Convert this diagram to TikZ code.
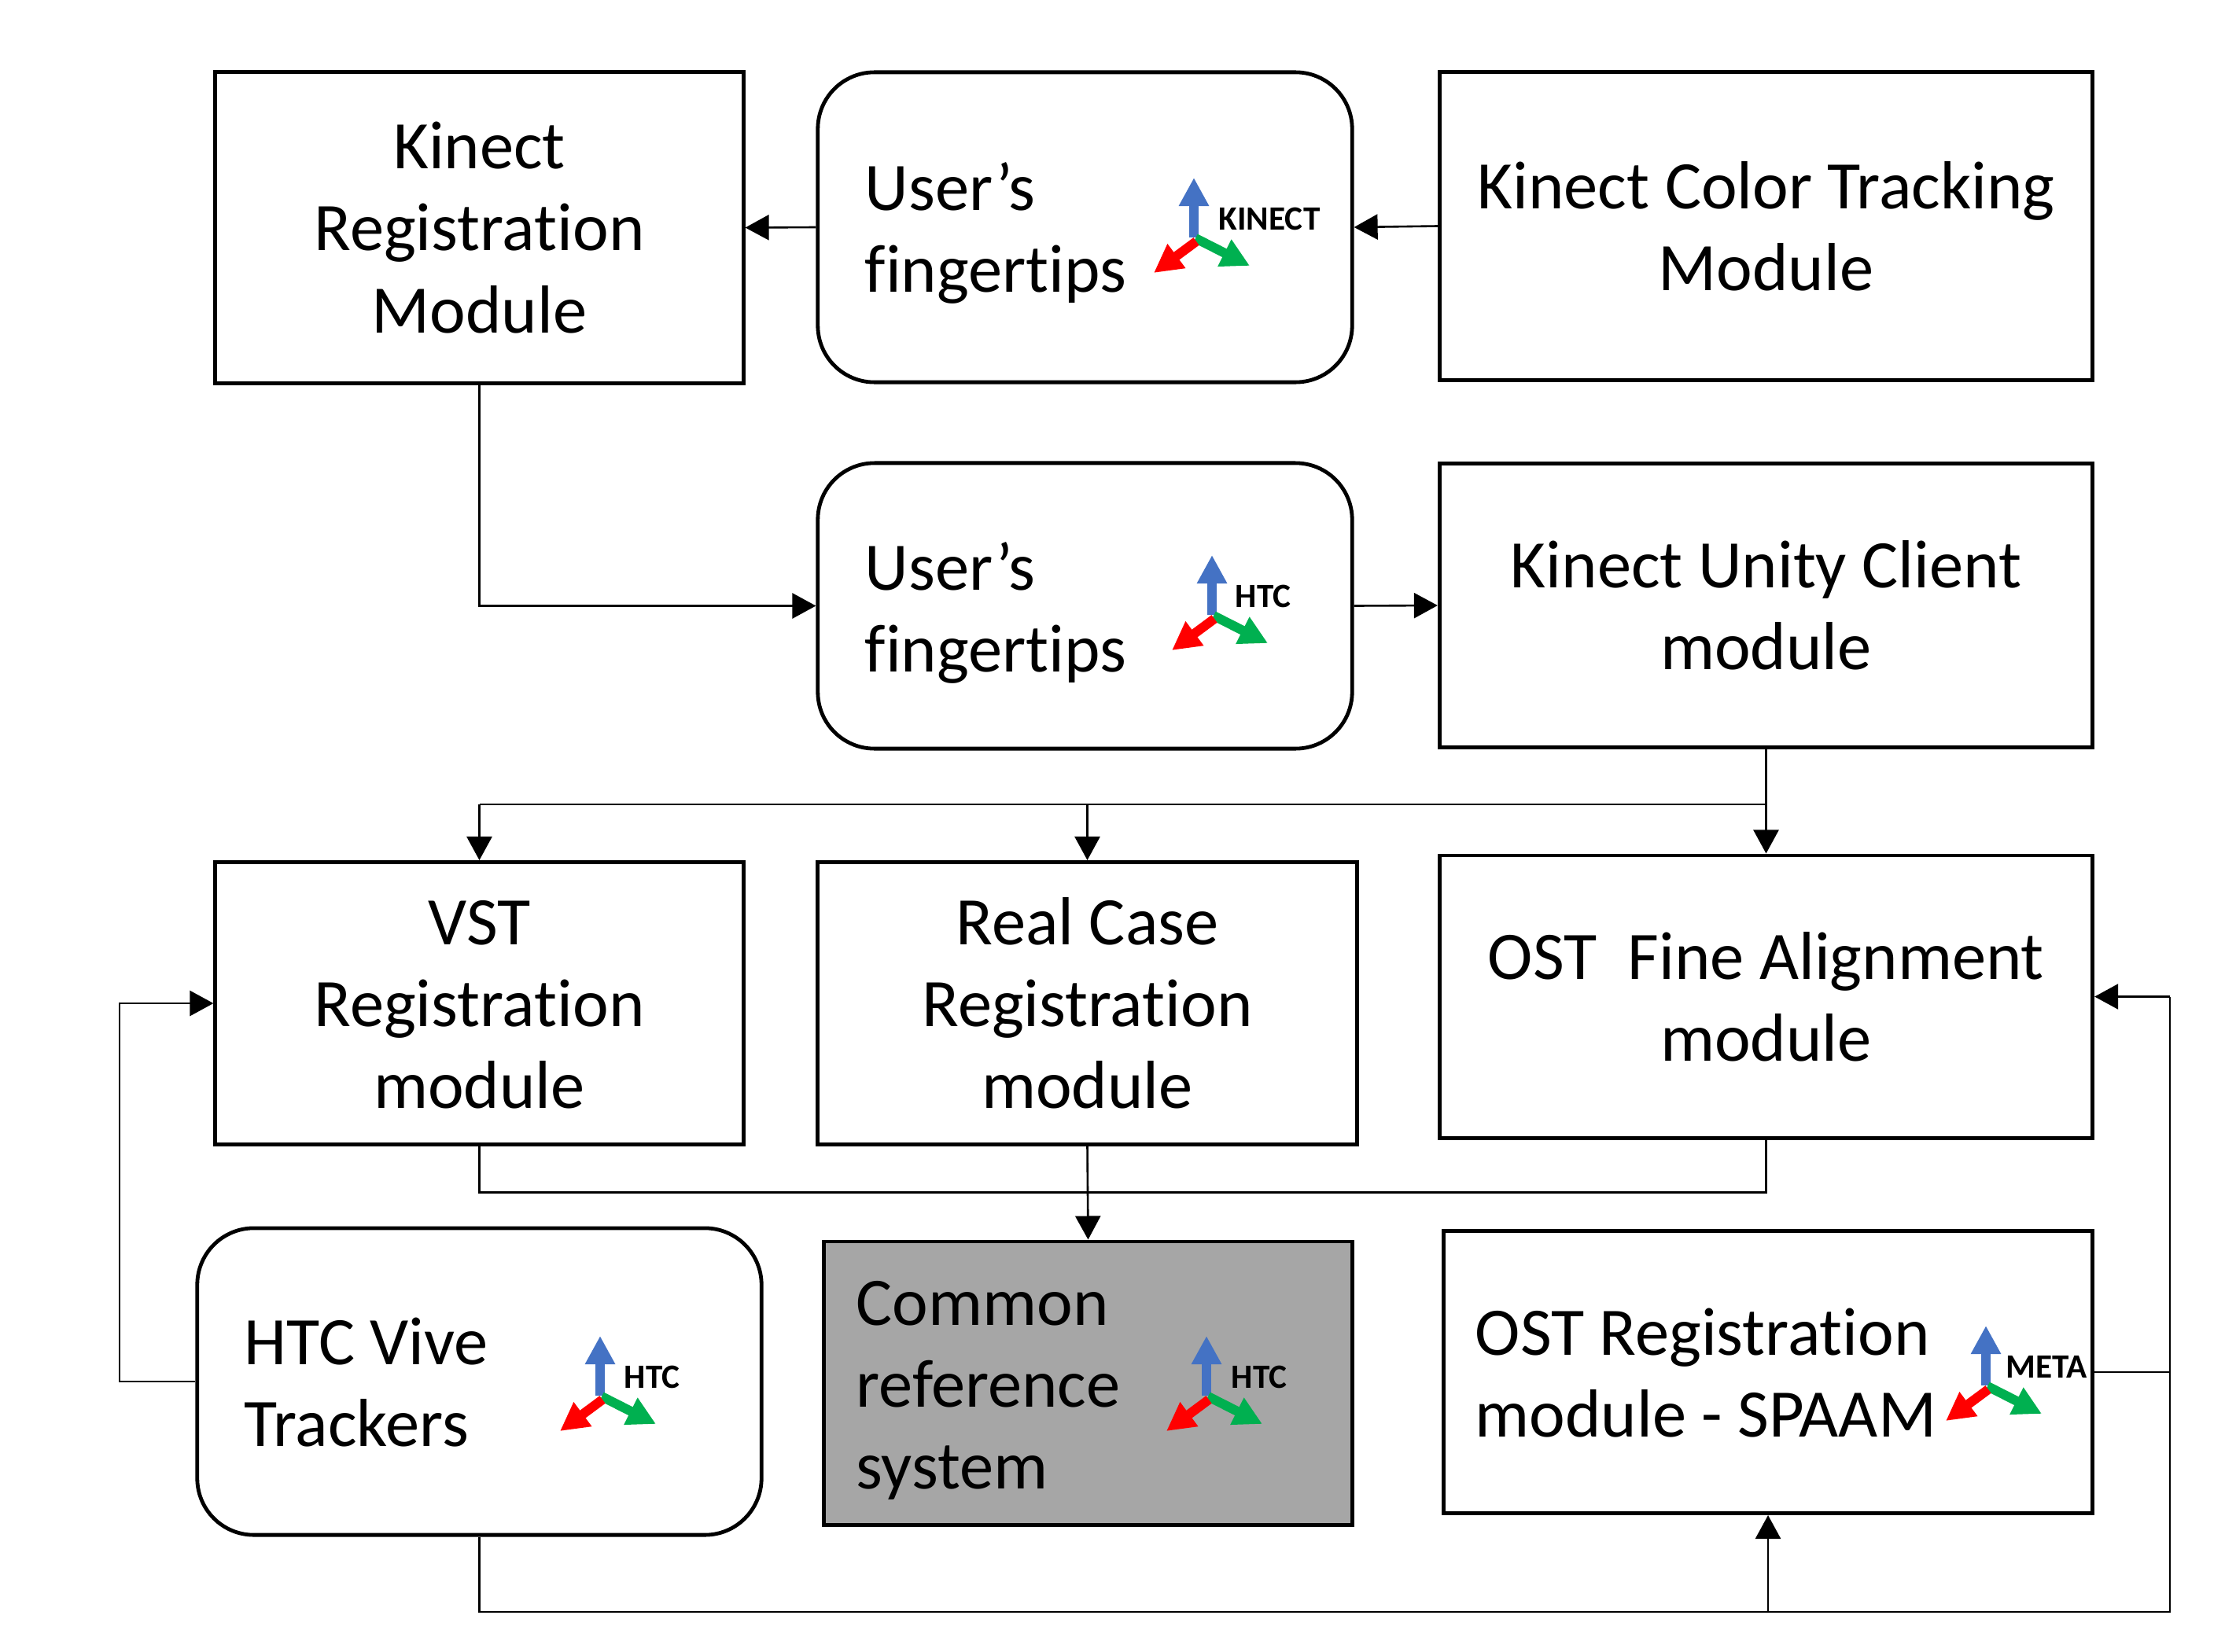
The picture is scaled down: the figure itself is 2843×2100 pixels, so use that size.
\documentclass[tikz,border=0pt]{standalone}
\usepackage{fontspec}
\setmainfont[Ligatures=NoCommon]{Carlito}
\usetikzlibrary{arrows.meta}
\definecolor{axisblue}{HTML}{4472C4}
\definecolor{axisgreen}{HTML}{00B050}
\definecolor{axisred}{HTML}{FF0000}
\definecolor{refgray}{HTML}{A6A6A6}
\tikzset{
  block/.style={draw,line width=0.048cm,align=center,inner sep=0pt,
    font=\fontsize{24.6}{29.6}\selectfont},
  roundblock/.style={block,rounded corners=0.72cm},
  lefttext/.style={anchor=west,align=left,inner sep=0pt,
    font=\fontsize{24.6}{29.6}\selectfont},
  axislabel/.style={anchor=west,inner sep=0pt,font=\fontsize{12.3}{14}\selectfont\bfseries},
  axis/.style={line width=0.12cm,-{Triangle[length=0.36cm,width=0.36cm]}},
  link/.style={line width=0.026cm},
  flow/.style={link,-{Triangle[length=0.3cm,width=0.32cm]}}
}
\newcommand{\refaxes}[4]{%
  \draw[axis,axisblue] (#1,#2) -- ++(0,-76);
  \draw[axis,axisgreen] (#1+2,#2+1) -- ++(69,35);
  \draw[axis,axisred] (#1+3,#2+5) -- ++(-54,40);
  \node[axislabel] at (#1+#3,#2-24) {#4};
}
\begin{document}
\begin{tikzpicture}[x=0.01cm,y=-0.01cm]
  \useasboundingbox (0,0) rectangle (2843,2100);
  % top row
  \node[block,minimum width=6.71cm,minimum height=3.95cm] (kinectreg) at (609.5,289.5)
    {Kinect\\Registration\\Module};
  \node[roundblock,minimum width=6.79cm,minimum height=3.94cm] (tipskinect) at (1379.5,289) {};
  \node[block,minimum width=8.30cm,minimum height=3.91cm] (colortrack) at (2245.5,287.5)
    {Kinect Color Tracking\\Module};
  \node[lefttext] (tipskinecttext) at (1099,296) {User’s\\fingertips};
  \refaxes{1518}{302}{31}{KINECT}
  % second row
  \node[roundblock,minimum width=6.79cm,minimum height=3.63cm] (tipshtc) at (1379.5,770.5) {};
  \node[block,minimum width=8.30cm,minimum height=3.61cm] (unityclient) at (2245.5,770)
    {Kinect Unity Client\\module};
  \node[lefttext] (tipshtctext) at (1099,779) {User’s\\fingertips};
  \refaxes{1541}{782}{29}{HTC}
  % third row
  \node[block,minimum width=6.71cm,minimum height=3.59cm] (vstreg) at (609.5,1276)
    {\vphantom{l}VST\\Registration\\module};
  \node[block,minimum width=6.85cm,minimum height=3.59cm] (realcase) at (1382.5,1276)
    {Real Case\\Registration\\module};
  \node[block,minimum width=8.30cm,minimum height=3.59cm] (ostfine) at (2245.5,1267.5)
    {OST\ \ Fine Alignment\\module};
  % bottom row
  \node[roundblock,minimum width=7.17cm,minimum height=3.90cm] (trackers) at (609.5,1757) {};
  \node[lefttext] (trackerstext) at (310,1758) {HTC Vive\\Trackers};
  \refaxes{763}{1775}{30}{HTC}
  \node[block,fill=refgray,minimum width=6.71cm,minimum height=3.60cm] (common) at (1383.5,1759) {};
  \node[lefttext] (commontext) at (1088,1768) {Common\\reference\\system};
  \refaxes{1534}{1775}{31}{HTC}
  \node[block,minimum width=8.25cm,minimum height=3.59cm] (ostspaam) at (2248,1745) {};
  \node[lefttext] (ostspaamtext) at (1875,1746) {OST Registration\\module - SPAAM};
  \refaxes{2525}{1762}{25}{META}
  % bends
  \coordinate (splitleft) at (609.5,1023);
  \coordinate (splitright) at (2245.5,1023);
  \coordinate (splitmid) at (1382.5,1023);
  \coordinate (mergeleft) at (609.5,1516.5);
  \coordinate (mergeright) at (2245.5,1516.5);
  \coordinate (farleft) at (152,1276);
  \coordinate (farright) at (2759,1267.5);
  \coordinate (underright) at (2759,2050);
  \coordinate (undertrack) at (609.5,2050);
  \coordinate (underspaam) at (2248,2050);
  % connectors
  \draw[flow] (colortrack.west) -- (tipskinect.east);
  \draw[flow] (tipskinect.west) -- (kinectreg.east);
  \draw[flow] (kinectreg.south) |- (tipshtc.west);
  \draw[flow] (tipshtc.east) -- (unityclient.west);
  \draw[flow] (unityclient.south) -- (ostfine.north);
  \draw[link] (splitright) -- (splitleft);
  \draw[flow] (splitleft) -- (vstreg.north);
  \draw[flow] (splitmid) -- (realcase.north);
  \draw[link] (vstreg.south) -- (mergeleft) -- (mergeright) -- (ostfine.south);
  \draw[flow] (realcase.south) -- (common.north);
  \draw[flow] (trackers.west) -| (farleft) -- (vstreg.west);
  \draw[link] (trackers.south) -- (undertrack) -- (underright) -- (farright);
  \draw[flow] (farright) -- (ostfine.east);
  \draw[flow] (underspaam) -- (ostspaam.south);
  \draw[link] (ostspaam.east) -- (ostspaam.east -| underright);
\end{tikzpicture}
\end{document}
